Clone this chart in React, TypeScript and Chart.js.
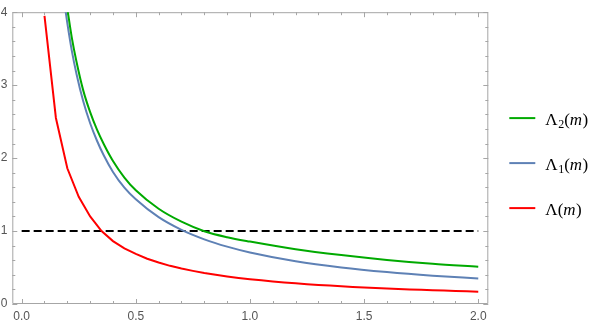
import React, { useEffect, useRef } from "react";
import { Chart, registerables } from "chart.js";

Chart.register(...registerables);

// ---- data ----
const mRed = [
  0.1, 0.15, 0.2, 0.25, 0.3, 0.35, 0.4, 0.45, 0.5, 0.55, 0.6, 0.65, 0.7, 0.75, 0.8, 0.85, 0.9, 0.95, 1.0,
  1.05, 1.1, 1.15, 1.2, 1.25, 1.3, 1.35, 1.4, 1.45, 1.5, 1.55, 1.6, 1.65, 1.7, 1.75, 1.8, 1.85, 1.9, 1.95, 2.0,
];
const lambda0 = [
  3.95, 2.55, 1.86, 1.47, 1.2, 1.0, 0.862, 0.762, 0.686, 0.62, 0.568, 0.523, 0.486, 0.454, 0.425, 0.4, 0.378,
  0.358, 0.34, 0.324, 0.309, 0.296, 0.283, 0.272, 0.262, 0.252, 0.243, 0.234, 0.227, 0.219, 0.213, 0.206, 0.2,
  0.194, 0.189, 0.184, 0.179, 0.174, 0.168,
];

const mBlue = [0.19, 0.2, 0.22, 0.24, 0.27, 0.3, 0.33, 0.36, 0.4, 0.45, 0.5, 0.6, 0.7, 0.8, 0.9, 1.0, 1.2, 1.4, 1.6, 1.8, 2.0];
const lambda1 = [4.07, 3.85, 3.467, 3.157, 2.775, 2.478, 2.238, 2.035, 1.81, 1.595, 1.435, 1.19, 1.016, 0.8865, 0.786, 0.706, 0.586, 0.501, 0.4375, 0.388, 0.349];

const mGreen = [0.2, 0.22, 0.24, 0.27, 0.3, 0.33, 0.36, 0.4, 0.45, 0.5, 0.6, 0.7, 0.8, 0.9, 1.0, 1.2, 1.4, 1.6, 1.8, 2.0];
const lambda2 = [4.05, 3.645, 3.325, 2.925, 2.63, 2.39, 2.19, 1.96, 1.733, 1.558, 1.305, 1.128, 0.998, 0.916, 0.856, 0.751, 0.671, 0.6045, 0.551, 0.51];

const mRef = [0, 2];
const refLevel = [1, 1];

const xTicks = [0, 0.5, 1, 1.5, 2];
const xTickLabels = ["0.0", "0.5", "1.0", "1.5", "2.0"];
const yTicks = [0, 1, 2, 3, 4];
const yTickLabels = ["0", "1", "2", "3", "4"];

// legend: base symbol, subscript, argument
const legendBase = ["Λ", "Λ", "Λ"];
const legendSub = ["2", "1", ""];
const legendArg = ["m", "m", "m"];

const GREEN = "#00aa00";
const BLUE = "#5e81b5";
const RED = "#ff0000";
const FRAME = "#a6a6a6";
const TICKTEXT = "#555555";

const toPts = (xs: number[], ys: number[]) => xs.map((x, i) => ({ x, y: ys[i] }));

const framePlugin = {
  id: "frameTicks",
  beforeDatasetsDraw(chart: any) {
    const { ctx, chartArea: a, scales } = chart;
    const xs = scales.x;
    const ys = scales.y;
    ctx.save();
    ctx.strokeStyle = FRAME;
    ctx.lineWidth = 1;
    ctx.beginPath();
    ctx.rect(a.left + 0.5, a.top + 0.5, a.right - a.left - 1, a.bottom - a.top - 1);
    ctx.stroke();
    ctx.beginPath();
    for (let i = 0; i <= 20; i++) {
      const v = i / 10;
      const len = i % 5 === 0 ? 5 : 3;
      const px = Math.round(xs.getPixelForValue(v)) + 0.5;
      ctx.moveTo(px, a.bottom);
      ctx.lineTo(px, a.bottom - len);
      ctx.moveTo(px, a.top);
      ctx.lineTo(px, a.top + len);
    }
    for (let i = 0; i <= 20; i++) {
      const v = i / 5;
      const len = i % 5 === 0 ? 5 : 3;
      const py = Math.round(ys.getPixelForValue(v)) + 0.5;
      ctx.moveTo(a.left, py);
      ctx.lineTo(a.left + len, py);
      ctx.moveTo(a.right, py);
      ctx.lineTo(a.right - len, py);
    }
    ctx.stroke();
    ctx.restore();
  },
  afterDraw(chart: any) {
    const { ctx, chartArea: a } = chart;
    const colors = [GREEN, BLUE, RED];
    const cy = (a.top + a.bottom) / 2 + 5;
    ctx.save();
    for (let i = 0; i < 3; i++) {
      const y = cy + (i - 1) * 45;
      const x0 = a.right + 21;
      ctx.strokeStyle = colors[i];
      ctx.lineWidth = 2;
      ctx.beginPath();
      ctx.moveTo(x0, y);
      ctx.lineTo(x0 + 26, y);
      ctx.stroke();
      let x = x0 + 36;
      const base = y + 7;
      ctx.fillStyle = "#000";
      ctx.textBaseline = "alphabetic";
      ctx.textAlign = "left";
      ctx.font = "17px 'Liberation Serif'";
      ctx.fillText(legendBase[i], x, base);
      x += ctx.measureText(legendBase[i]).width;
      if (legendSub[i]) {
        ctx.font = "12px 'Liberation Serif'";
        ctx.fillText(legendSub[i], x + 0.5, base + 3);
        x += ctx.measureText(legendSub[i]).width + 0.5;
      }
      ctx.font = "17px 'Liberation Serif'";
      ctx.fillText("(", x, base);
      x += ctx.measureText("(").width;
      ctx.font = "italic 17px 'Liberation Serif'";
      ctx.fillText(legendArg[i], x, base);
      x += ctx.measureText(legendArg[i]).width + 0.5;
      ctx.font = "17px 'Liberation Serif'";
      ctx.fillText(")", x, base);
    }
    ctx.restore();
  },
};

export default function App() {
  const ref = useRef<HTMLCanvasElement | null>(null);
  useEffect(() => {
    if (!ref.current) return;
    const chart = new Chart(ref.current, {
      type: "line",
      data: {
        datasets: [
          {
            label: "Λ2(m)",
            data: toPts(mGreen, lambda2),
            borderColor: GREEN,
            borderWidth: 2,
            pointRadius: 0,
            cubicInterpolationMode: "monotone",
            fill: false,
          },
          {
            label: "Λ1(m)",
            data: toPts(mBlue, lambda1),
            borderColor: BLUE,
            borderWidth: 2,
            pointRadius: 0,
            cubicInterpolationMode: "monotone",
            fill: false,
          },
          {
            label: "Λ(m)",
            data: toPts(mRed, lambda0),
            borderColor: RED,
            borderWidth: 2,
            pointRadius: 0,
            tension: 0,
            fill: false,
          },
          {
            label: "1",
            data: toPts(mRef, refLevel),
            borderColor: "#000000",
            borderWidth: 2,
            borderDash: [8, 4],
            pointRadius: 0,
            fill: false,
          },
        ],
      },
      options: {
        responsive: false,
        animation: false,
        layout: { padding: { left: 0, right: 110.7, top: 10, bottom: 0 } },
        plugins: { legend: { display: false }, tooltip: { enabled: false } },
        scales: {
          x: {
            type: "linear",
            min: -0.041,
            max: 2.044,
            border: { display: false },
            grid: { display: false, drawTicks: false },
            afterBuildTicks: (s: any) => {
              s.ticks = xTicks.map((v) => ({ value: v }));
            },
            afterFit: (s: any) => {
              s.height = 26;
            },
            ticks: {
              autoSkip: false,
              maxRotation: 0,
              padding: 5,
              color: TICKTEXT,
              font: { family: "'Liberation Sans'", size: 12 },
              callback: (v: any) => {
                const i = xTicks.indexOf(Number(v));
                return i >= 0 ? xTickLabels[i] : "";
              },
            },
          },
          y: {
            type: "linear",
            min: 0,
            max: 4,
            border: { display: false },
            grid: { display: false, drawTicks: false },
            afterBuildTicks: (s: any) => {
              s.ticks = yTicks.map((v) => ({ value: v }));
            },
            afterFit: (s: any) => {
              s.width = 12.3;
            },
            ticks: {
              autoSkip: false,
              padding: 5,
              color: TICKTEXT,
              font: { family: "'Liberation Sans'", size: 12 },
              callback: (v: any) => {
                const i = yTicks.indexOf(Number(v));
                return i >= 0 ? yTickLabels[i] : "";
              },
            },
          },
        },
      },
      plugins: [framePlugin],
    } as any);
    return () => chart.destroy();
  }, []);
  return (
    <div style={{ position: "fixed", left: 0, top: 0, width: 599, height: 330, background: "#fff" }}>
      <canvas ref={ref} width={599} height={330} />
    </div>
  );
}
